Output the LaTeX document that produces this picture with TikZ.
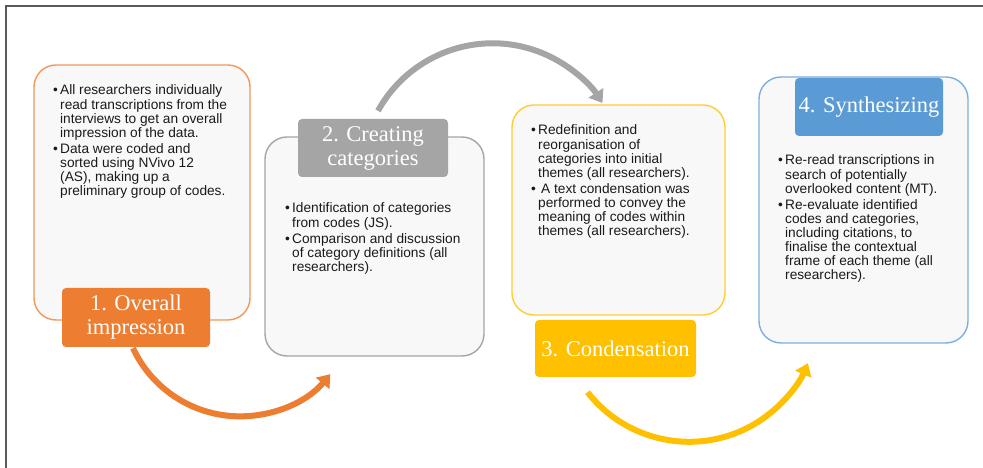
\documentclass[tikz,border=0pt]{standalone}
\usepackage{fontspec}
\usetikzlibrary{arrows.meta}
\newfontfamily\bodyfont{Liberation Sans}
\newfontfamily\tagfont{Liberation Serif}
\definecolor{cOrange}{HTML}{ED7D31}
\definecolor{cGray}{HTML}{A5A5A5}
\definecolor{cYellow}{HTML}{FFC000}
\definecolor{cBlue}{HTML}{5B9BD5}
\definecolor{cFill}{HTML}{F8F8F8}
\definecolor{cText}{HTML}{1A1A1A}
\definecolor{cFrame}{HTML}{5A5A5A}
% bullet with a fixed hanging width
\newcommand{\bpt}{\makebox[7pt][l]{\textbullet}}
% bulleted block, baseline on its first line
\newcommand{\itemlines}[1]{\begin{tabular}[t]{@{}l@{}l@{}}#1\end{tabular}}
\tikzset{
  stagebox/.style={draw, line width=1.4pt, fill=cFill, rounded corners=22pt, inner sep=0pt},
  stagetag/.style={rounded corners=4pt, text=white, align=center, inner sep=0pt,
    font=\tagfont\fontsize{22.5}{24}\selectfont},
  bodytext/.style={anchor=base west, inner sep=0pt, text=cText,
    font=\bodyfont\fontsize{13.7}{13.7}\selectfont},
  flowarrow/.style={line width=6pt, -{Triangle[length=12pt,width=17pt]}}
}
\begin{document}
\begin{tikzpicture}[x=1pt,y=1pt]
\useasboundingbox (0,0) rectangle (983,468);
% page frame
\draw[cFrame, line width=1.6pt] (983,462) -- (6,462) -- (6,0);

% stage boxes
\node[stagebox, draw=cOrange!80, minimum width=216pt, minimum height=255pt] (box1) at (142,275.5) {};
\node[stagebox, draw=cGray, minimum width=219pt, minimum height=219pt] (box2) at (374.5,221.5) {};
\node[stagebox, draw=cYellow!80, minimum width=213pt, minimum height=210pt] (box3) at (618.5,258) {};
\node[stagebox, draw=cBlue!80, minimum width=209pt, minimum height=266pt] (box4) at (863.5,258) {};

% stage titles
\node[stagetag, fill=cOrange, minimum width=148pt, minimum height=59pt] (lab1) at (136,150.5) {1. Overall\\impression};
\node[stagetag, fill=cGray, minimum width=150pt, minimum height=58pt] (lab2) at (373,320) {2. Creating\\categories};
\node[stagetag, fill=cYellow, minimum width=161pt, minimum height=57pt] (lab3) at (615.5,119.5) {3. Condensation};
\node[stagetag, fill=cBlue, minimum width=148pt, minimum height=58pt] (lab4) at (869,361) {4. Synthesizing};

% stage descriptions
\node[bodytext] (txt1) at (53,373) {\itemlines{
  \bpt & All researchers individually\\
       & read transcriptions from the\\
       & interviews to get an overall\\
       & impression of the data.\\[2.5pt]
  \bpt & Data were coded and\\
       & sorted using NVivo 12\\
       & (AS), making up a\\
       & preliminary group of codes.}};
\node[bodytext] (txt2) at (285,255) {\itemlines{
  \bpt & Identification of categories\\
       & from codes (JS).\\[2.5pt]
  \bpt & Comparison and discussion\\
       & of category definitions (all\\
       & researchers).}};
\node[bodytext] (txt3) at (531,333) {\itemlines{
  \bpt & Redefinition and\\
       & reorganisation of\\
       & categories into initial\\
       & themes (all researchers).\\[2.5pt]
  \bpt & \hspace{3pt}A text condensation was\\
       & performed to convey the\\
       & meaning of codes within\\
       & themes (all researchers).}};
\node[bodytext] (txt4) at (778,303) {\itemlines{
  \bpt & Re-read transcriptions in\\
       & search of potentially\\
       & overlooked content (MT).\\[2.5pt]
  \bpt & Re-evaluate identified\\
       & codes and categories,\\
       & including citations, to\\
       & finalise the contextual\\
       & frame of each theme (all\\
       & researchers).}};

% curved arrows between stages
\coordinate (s1) at ([xshift=-3pt,yshift=-1pt]lab1.south);
\coordinate (s2) at ([xshift=5pt,yshift=8pt]lab2.north);
\coordinate (s3) at ([xshift=-28pt,yshift=-15pt]lab3.south);
\draw[flowarrow, cOrange] (s1) arc[start angle=205, end angle=320, radius=118pt];
\draw[flowarrow, cGray] (s2) arc[start angle=151, end angle=33, radius=131pt];
\draw[flowarrow, cYellow] (s3) arc[start angle=218, end angle=337, radius=129pt];
\end{tikzpicture}
\end{document}
